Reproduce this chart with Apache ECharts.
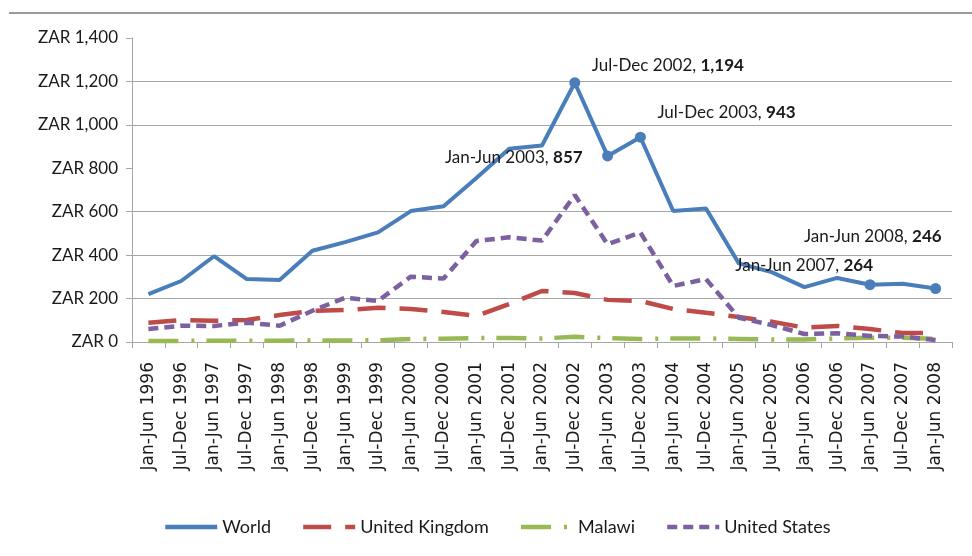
<!DOCTYPE html>
<html>
<head>
<meta charset="utf-8">
<style>
  html, body { margin: 0; padding: 0; background: #ffffff; }
  #chart { width: 972px; height: 556px; }
</style>
<script src="https://cdn.jsdelivr.net/npm/echarts@6/dist/echarts.min.js"></script>
</head>
<body>
<div id="chart"></div>
<script>
const categories = [
  'Jan-Jun 1996','Jul-Dec 1996','Jan-Jun 1997','Jul-Dec 1997','Jan-Jun 1998','Jul-Dec 1998',
  'Jan-Jun 1999','Jul-Dec 1999','Jan-Jun 2000','Jul-Dec 2000','Jan-Jun 2001','Jul-Dec 2001',
  'Jan-Jun 2002','Jul-Dec 2002','Jan-Jun 2003','Jul-Dec 2003','Jan-Jun 2004','Jul-Dec 2004',
  'Jan-Jun 2005','Jul-Dec 2005','Jan-Jun 2006','Jul-Dec 2006','Jan-Jun 2007','Jul-Dec 2007',
  'Jan-Jun 2008'
];
const seriesNames = ['World', 'United Kingdom', 'Malawi', 'United States'];
const world = [220, 281, 395, 290, 285, 420, 460, 505, 603, 625, 755, 890, 905, 1194, 857, 943, 603, 615, 362, 322, 253, 295, 264, 268, 246];
const unitedKingdom = [89, 101, 98, 101, 124, 143, 147, 158, 152, 138, 120, 175, 235, 226, 194, 189, 152, 135, 115, 94, 66, 74, 60, 41, 41];
const malawi = [5, 5, 6, 6, 6, 7, 7, 8, 14, 15, 18, 18, 16, 24, 18, 14, 16, 16, 14, 12, 12, 16, 20, 20, 15];
const unitedStates = [60, 75, 74, 89, 75, 144, 204, 189, 301, 292, 465, 482, 467, 677, 450, 504, 258, 290, 112, 78, 37, 40, 28, 25, 9];
const yTicks = [0, 200, 400, 600, 800, 1000, 1200, 1400];
// World points that carry a data label
const labelledPoints = ['Jul-Dec 2002', 'Jan-Jun 2003', 'Jul-Dec 2003', 'Jan-Jun 2007', 'Jan-Jun 2008'];

const labelStyles = {
  'Jul-Dec 2002': { align: 'left', offset: [17, -17] },
  'Jan-Jun 2003': { align: 'right', offset: [-25, 2] },
  'Jul-Dec 2003': { align: 'left', offset: [17, -25] },
  'Jan-Jun 2007': { align: 'right', offset: [3, -19] },
  'Jan-Jun 2008': { align: 'right', offset: [6, -52] }
};

function fmt(v) {
  return v.toLocaleString('en-US');
}

const worldData = world.map(function (v, i) {
  const cat = categories[i];
  if (labelledPoints.indexOf(cat) < 0) return v;
  const st = labelStyles[cat];
  return {
    value: v,
    symbol: 'circle',
    symbolSize: 11,
    label: {
      show: true,
      position: 'inside',
      align: st.align,
      verticalAlign: 'middle',
      offset: st.offset,
      formatter: '{a|' + cat + ', }{b|' + fmt(v) + '}',
      rich: {
        a: { fontFamily: 'Lato', fontSize: 17, color: '#1a1a1a' },
        b: { fontFamily: 'Lato', fontSize: 17, fontWeight: 'bold', color: '#1a1a1a' }
      }
    }
  };
});

const gridColor = '#a6a6a6';
const splitColors = yTicks.map(function (t) {
  return (t === 800 || t === 1400) ? 'rgba(0,0,0,0)' : gridColor;
});

const chart = echarts.init(document.getElementById('chart'), null, { renderer: 'canvas' });
chart.setOption({
  animation: false,
  backgroundColor: '#ffffff',
  textStyle: { fontFamily: 'Lato' },
  graphic: [{
    type: 'line',
    shape: { x1: 9, y1: 13, x2: 972, y2: 13 },
    style: { stroke: '#9a9a9a', lineWidth: 2 }
  }],
  grid: { left: 132, right: 20, top: 38, bottom: 214, containLabel: false },
  legend: {
    data: seriesNames,
    left: 158,
    top: 513,
    itemWidth: 52,
    itemHeight: 14,
    itemGap: 30,
    itemStyle: { opacity: 0 },
    lineStyle: { width: 4.5 },
    textStyle: { fontFamily: 'Lato', fontSize: 18, color: '#1a1a1a', padding: [0, 0, 0, 0] }
  },
  xAxis: {
    type: 'category',
    data: categories,
    boundaryGap: true,
    axisLine: { show: true, lineStyle: { color: gridColor, width: 1 } },
    axisTick: { show: true, length: 6, alignWithLabel: false, lineStyle: { color: gridColor } },
    axisLabel: {
      interval: 0,
      rotate: 90,
      margin: 20,
      fontFamily: 'DejaVu Sans',
      fontSize: 17,
      color: '#1a1a1a'
    },
    splitLine: { show: false }
  },
  yAxis: {
    type: 'value',
    min: yTicks[0],
    max: yTicks[yTicks.length - 1],
    interval: 200,
    axisLine: { show: true, lineStyle: { color: gridColor, width: 1 } },
    axisTick: { show: true, length: 6, lineStyle: { color: gridColor } },
    axisLabel: {
      margin: 14,
      fontFamily: 'Lato',
      fontSize: 17,
      color: '#1a1a1a',
      formatter: function (v) { return 'ZAR ' + fmt(v); }
    },
    splitLine: { show: true, lineStyle: { color: splitColors, width: 1 } }
  },
  series: [
    {
      name: 'World',
      type: 'line',
      data: worldData,
      symbol: 'none',
      showSymbol: true,
      z: 5,
      lineStyle: { color: '#4a7ebb', width: 4 },
      itemStyle: { color: '#4a7ebb' },
      emphasis: { disabled: true }
    },
    {
      name: 'United Kingdom',
      type: 'line',
      data: unitedKingdom,
      symbol: 'none',
      z: 3,
      lineStyle: { color: '#be4b48', width: 4.5, type: [28, 14] },
      itemStyle: { color: '#be4b48' },
      emphasis: { disabled: true }
    },
    {
      name: 'Malawi',
      type: 'line',
      data: malawi,
      symbol: 'none',
      z: 2,
      lineStyle: { color: '#98b954', width: 4.5, type: [30, 13, 3, 12] },
      itemStyle: { color: '#98b954' },
      emphasis: { disabled: true }
    },
    {
      name: 'United States',
      type: 'line',
      data: unitedStates,
      symbol: 'none',
      z: 4,
      lineStyle: { color: '#7d60a0', width: 4.5, type: [10, 6] },
      itemStyle: { color: '#7d60a0' },
      emphasis: { disabled: true }
    }
  ]
});
</script>
</body>
</html>
